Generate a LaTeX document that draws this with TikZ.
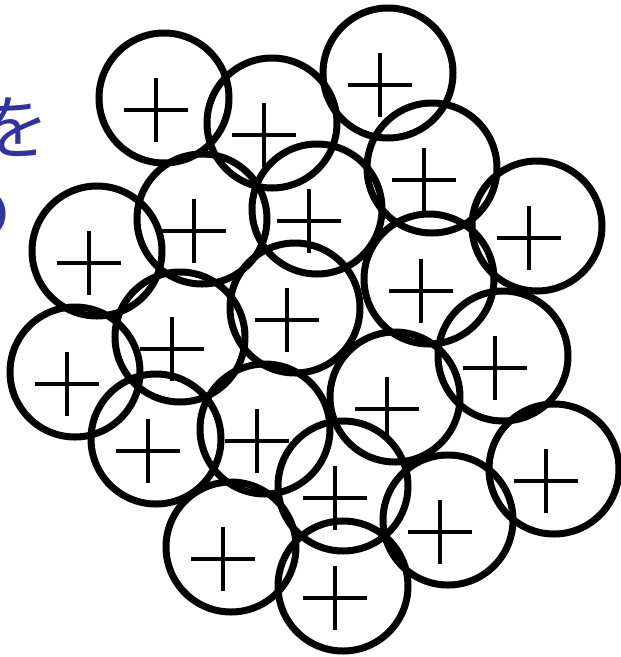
\documentclass[tikz,border=0pt]{standalone}
\usepackage{fontspec}
\newfontfamily\cjk{Noto Sans CJK JP}
\definecolor{inkblue}{RGB}{51,51,160}

\begin{document}
\begin{tikzpicture}[x=1pt,y=-1pt,ion/.style={draw, circle, line width=7pt, minimum size=130pt, inner sep=0pt},plus/.style={line width=4.7pt},label/.style={text=inkblue, font=\cjk\fontsize{70}{70}\selectfont, inner sep=0pt}]
\useasboundingbox (0,0) rectangle (621,657);
\node[label, anchor=east] (wo) at (50,127) {を};
\node[label, anchor=east] (no) at (13,214) {の};
\foreach \i/\x/\y in {1/164/98, 2/272/123, 3/388/73, 4/432/168, 5/537/226, 6/202/219, 7/317/209, 8/97/251, 9/429/279, 10/295/308, 11/180/337, 12/75/372, 13/503/356, 14/395/397, 15/156/439, 16/265/429, 17/554/469, 18/343/486, 19/448/520, 20/231/547, 21/343/586}{
  \node[ion] (c\i) at (\x,\y) {};
  \draw[plus] ([shift={(-40,12)}]c\i.center) -- ++(64,0);
  \draw[plus] ([shift={(-8,-20)}]c\i.center) -- ++(0,64);
}
\end{tikzpicture}
\end{document}
